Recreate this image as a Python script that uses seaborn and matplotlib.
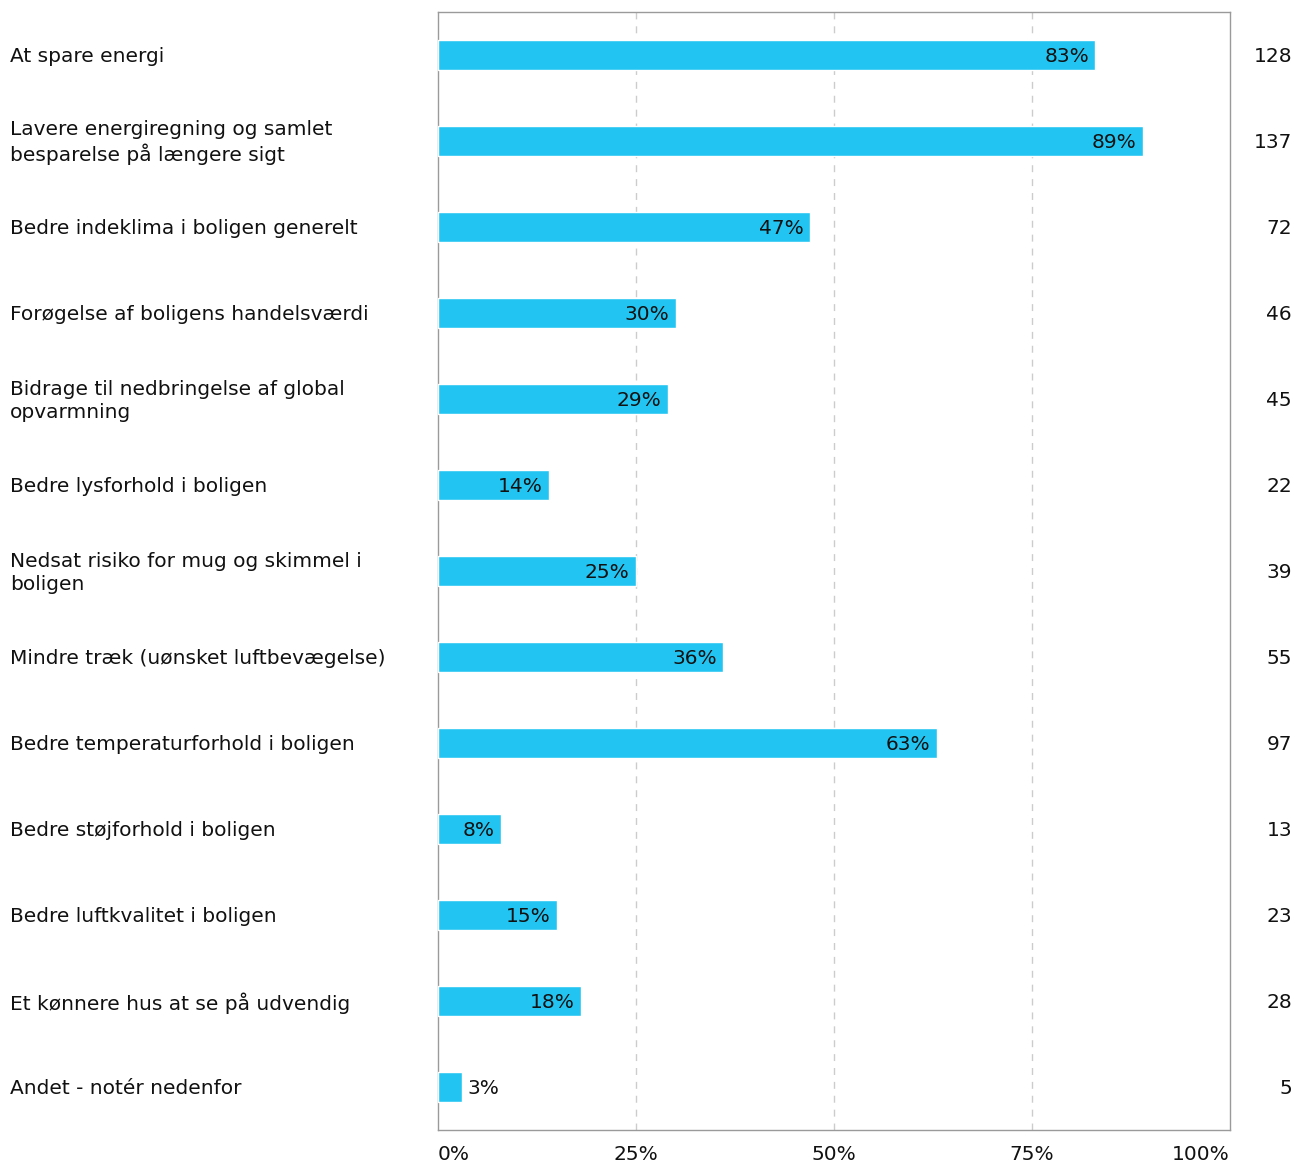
import matplotlib
matplotlib.use("Agg")
import matplotlib.pyplot as plt
import seaborn as sns
import pandas as pd

categories = [
    "At spare energi",
    "Lavere energiregning og samlet\nbesparelse på længere sigt",
    "Bedre indeklima i boligen generelt",
    "Forøgelse af boligens handelsværdi",
    "Bidrage til nedbringelse af global\nopvarmning",
    "Bedre lysforhold i boligen",
    "Nedsat risiko for mug og skimmel i\nboligen",
    "Mindre træk (uønsket luftbevægelse)",
    "Bedre temperaturforhold i boligen",
    "Bedre støjforhold i boligen",
    "Bedre luftkvalitet i boligen",
    "Et kønnere hus at se på udvendig",
    "Andet - notér nedenfor",
]
percent = [83, 89, 47, 30, 29, 14, 25, 36, 63, 8, 15, 18, 3]
counts = [128, 137, 72, 46, 45, 22, 39, 55, 97, 13, 23, 28, 5]
tick_values = [0, 25, 50, 75, 100]
tick_labels = ["0%", "25%", "50%", "75%", "100%"]

sns.set_theme(style="white")
plt.rcParams["font.family"] = ["DejaVu Sans"]

df = pd.DataFrame({"cat": categories, "pct": percent, "n": counts})

W, H = 1295, 1164
fig = plt.figure(figsize=(W / 100, H / 100), dpi=100)
ax = fig.add_axes([438 / W, 1 - 1130 / H, (1230 - 438) / W, (1130 - 12) / H])

sns.barplot(data=df, x="pct", y="cat", orient="h", color="#22C5F2",
            saturation=1, width=0.36, ax=ax, zorder=3)

fs = 14.5
txt = "#111111"

ax.set_xlim(0, 100)
ax.set_ylim(len(categories) - 0.5, -0.5)
ax.set_xlabel("")
ax.set_ylabel("")
ax.set_yticks([])
ax.set_xticks(tick_values)
ax.set_xticklabels(tick_labels, fontsize=fs, color=txt)
for lbl, ha in zip(ax.get_xticklabels(), ["left", "center", "center", "center", "right"]):
    lbl.set_ha(ha)
ax.tick_params(axis="x", length=0, pad=11)

for v in [25, 50, 75]:
    ax.axvline(v, color="#cccccc", linestyle=(0, (5, 5)), linewidth=1, zorder=1)

for s in ax.spines.values():
    s.set_visible(True)
    s.set_color("#9a9a9a")
    s.set_linewidth(1)

dy = -1.3
for i, (cat, p, n) in enumerate(zip(categories, percent, counts)):
    if p >= 5:
        ax.annotate(f"{p}%", xy=(p, i), xytext=(-4.5, dy), textcoords="offset points",
                    ha="right", va="center", fontsize=fs, color=txt, zorder=4)
    else:
        ax.annotate(f"{p}%", xy=(p, i), xytext=(4, dy), textcoords="offset points",
                    ha="left", va="center", fontsize=fs, color=txt, zorder=4)
    ax.annotate(cat, xy=(0, i), xycoords=("figure fraction", "data"),
                xytext=(10 * 0.72, dy), textcoords="offset points",
                ha="left", va="center", fontsize=fs, color=txt,
                linespacing=1.25, annotation_clip=False)
    ax.annotate(str(n), xy=(1, i), xycoords=("figure fraction", "data"),
                xytext=(-3 * 0.72, dy), textcoords="offset points",
                ha="right", va="center", fontsize=fs, color=txt,
                annotation_clip=False)

fig.savefig("out.png", dpi=100, facecolor="white")
